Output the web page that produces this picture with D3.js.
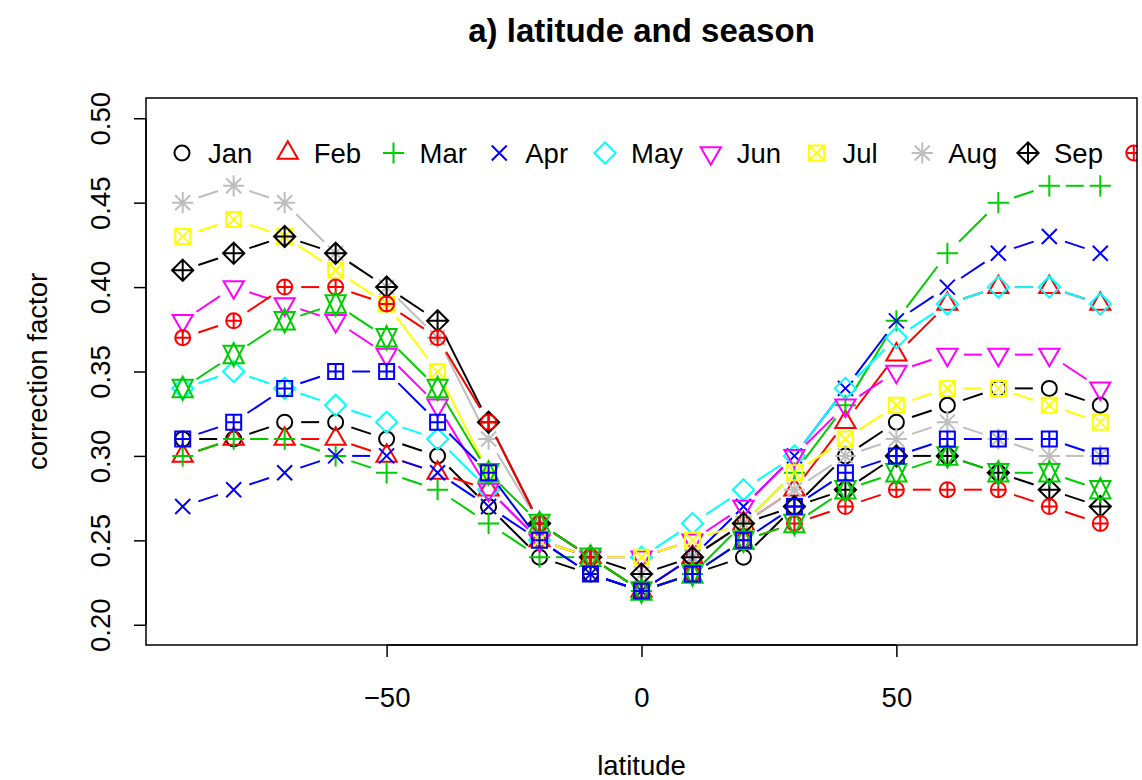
<!DOCTYPE html>
<html>
<head>
<meta charset="utf-8">
<script src="https://cdn.jsdelivr.net/npm/d3@7"></script>
<style>
  body { margin: 0; background: #fff; }
  text { font-family: "Liberation Sans", Arial, Helvetica, sans-serif; }
</style>
</head>
<body>
<svg id="chart" width="1142" height="780"></svg>
<script>
// Latitudes (degrees) and the monthly correction factors at each one
const latitudes = [-90, -80, -70, -60, -50, -40, -30, -20, -10, 0, 10, 20, 30, 40, 50, 60, 70, 80, 90];
const months = ["Jan", "Feb", "Mar", "Apr", "May", "Jun", "Jul", "Aug", "Sep", "Oct", "Nov", "Dec"];

const jan = [0.31, 0.31, 0.32, 0.32, 0.31, 0.30, 0.27, 0.24, 0.23, 0.22, 0.23, 0.24, 0.27, 0.30, 0.32, 0.33, 0.34, 0.34, 0.33];
const feb = [0.30, 0.31, 0.31, 0.31, 0.30, 0.29, 0.28, 0.25, 0.24, 0.22, 0.24, 0.26, 0.28, 0.32, 0.36, 0.39, 0.40, 0.40, 0.39];
const mar = [0.30, 0.31, 0.31, 0.30, 0.29, 0.28, 0.26, 0.24, 0.24, 0.22, 0.23, 0.26, 0.29, 0.33, 0.38, 0.42, 0.45, 0.46, 0.46];
const apr = [0.27, 0.28, 0.29, 0.30, 0.30, 0.29, 0.27, 0.25, 0.23, 0.22, 0.24, 0.27, 0.30, 0.34, 0.38, 0.40, 0.42, 0.43, 0.42];
const may = [0.34, 0.35, 0.34, 0.33, 0.32, 0.31, 0.28, 0.25, 0.24, 0.24, 0.26, 0.28, 0.30, 0.34, 0.37, 0.39, 0.40, 0.40, 0.39];
const jun = [0.38, 0.40, 0.39, 0.38, 0.36, 0.33, 0.28, 0.25, 0.24, 0.24, 0.25, 0.27, 0.30, 0.33, 0.35, 0.36, 0.36, 0.36, 0.34];
const jul = [0.43, 0.44, 0.43, 0.41, 0.39, 0.35, 0.29, 0.25, 0.24, 0.24, 0.25, 0.26, 0.29, 0.31, 0.33, 0.34, 0.34, 0.33, 0.32];
const aug = [0.45, 0.46, 0.45, 0.42, 0.40, 0.37, 0.31, 0.26, 0.24, 0.23, 0.24, 0.26, 0.28, 0.30, 0.31, 0.32, 0.31, 0.30, 0.30];
const sep = [0.41, 0.42, 0.43, 0.42, 0.40, 0.38, 0.32, 0.26, 0.24, 0.23, 0.24, 0.26, 0.27, 0.28, 0.30, 0.30, 0.29, 0.28, 0.27];
const oct = [0.37, 0.38, 0.40, 0.40, 0.39, 0.37, 0.32, 0.26, 0.24, 0.22, 0.23, 0.25, 0.26, 0.27, 0.28, 0.28, 0.28, 0.27, 0.26];
const nov = [0.34, 0.36, 0.38, 0.39, 0.37, 0.34, 0.29, 0.26, 0.24, 0.22, 0.23, 0.25, 0.26, 0.28, 0.29, 0.30, 0.29, 0.29, 0.28];
const dec = [0.31, 0.32, 0.34, 0.35, 0.35, 0.32, 0.29, 0.25, 0.23, 0.22, 0.23, 0.25, 0.27, 0.29, 0.30, 0.31, 0.31, 0.31, 0.30];
const seriesValues = [jan, feb, mar, apr, may, jun, jul, aug, sep, oct, nov, dec];

const xTicks = [-50, 0, 50];
const yTicks = [0.20, 0.25, 0.30, 0.35, 0.40, 0.45, 0.50];

// Base graphics palette, recycled across the twelve series; symbols 1..12
const palette = ["#000000", "#FF0000", "#00CD00", "#0000FF", "#00FFFF", "#FF00FF", "#FFFF00", "#BEBEBE"];
const symbols = d3.range(1, 13);

const svg = d3.select("#chart");
const plot = { left: 146, right: 1137, top: 98, bottom: 645 };

const x = d3.scaleLinear().domain([-97.2, 97.2]).range([plot.left, plot.right]);
const y = d3.scaleLinear().domain([0.188, 0.512]).range([plot.bottom, plot.top]);

const FONT = 27.5;
const R = 7.5;        // symbol radius
const GAP = 16.5;     // gap left around each point on the connecting lines
const LW = 2;

// Symbol outlines centred on the origin
const TRC0 = Math.sqrt(4 * Math.PI / (3 * Math.sqrt(3)));
const TRC1 = TRC0 * Math.sqrt(3) / 2;
const TRC2 = TRC0 / 2;
function circle(r) {
  return `M${-r},0a${r},${r} 0 1,0 ${2 * r},0a${r},${r} 0 1,0 ${-2 * r},0Z`;
}
function plus(s) { return `M${-s},0L${s},0M0,${-s}L0,${s}`; }
function cross(s) { return `M${-s},${-s}L${s},${s}M${-s},${s}L${s},${-s}`; }
function square(s) { return `M${-s},${-s}L${s},${-s}L${s},${s}L${-s},${s}Z`; }
function diamond(s) { return `M${-s},0L0,${-s}L${s},0L0,${s}Z`; }
function symbolPath(pch, r) {
  const s2 = Math.SQRT2 * r;
  const tr = TRC0 * r, tyc = TRC2 * r, txc = TRC1 * r;
  switch (pch) {
    case 1: return circle(r);
    case 2: return `M0,${-tr}L${txc},${tyc}L${-txc},${tyc}Z`;
    case 3: return plus(s2);
    case 4: return cross(r);
    case 5: return diamond(s2);
    case 6: return `M0,${tr}L${txc},${-tyc}L${-txc},${-tyc}Z`;
    case 7: return square(r) + cross(r);
    case 8: return cross(r) + plus(s2);
    case 9: return diamond(s2) + plus(s2);
    case 10: return circle(r) + plus(r);
    case 11: {
      const yc = 0.5 * (tyc + tr);
      return `M0,${-tr}L${txc},${yc}L${-txc},${yc}Z` + `M0,${tr}L${txc},${-yc}L${-txc},${-yc}Z`;
    }
    case 12: return square(r) + plus(r);
  }
}

// Title
svg.append("text")
  .attr("x", (plot.left + plot.right) / 2).attr("y", 42)
  .attr("text-anchor", "middle")
  .attr("font-size", 33).attr("font-weight", "bold")
  .text("a) latitude and season");

// Clip region for everything drawn inside the frame
svg.append("clipPath").attr("id", "plotClip")
  .append("rect")
  .attr("x", plot.left).attr("y", plot.top)
  .attr("width", plot.right - plot.left).attr("height", plot.bottom - plot.top);

// Series: broken connecting lines, then symbols
const marks = svg.append("g").attr("clip-path", "url(#plotClip)");
seriesValues.forEach((vals, k) => {
  const col = palette[k % palette.length];
  const g = marks.append("g");
  const pts = vals.map((v, i) => [x(latitudes[i]), y(v)]);
  for (let i = 0; i < pts.length - 1; i++) {
    const [x1, y1] = pts[i], [x2, y2] = pts[i + 1];
    const dx = x2 - x1, dy = y2 - y1, len = Math.hypot(dx, dy);
    if (len <= 2 * GAP) continue;
    const ux = dx / len, uy = dy / len;
    g.append("line")
      .attr("x1", x1 + ux * GAP).attr("y1", y1 + uy * GAP)
      .attr("x2", x2 - ux * GAP).attr("y2", y2 - uy * GAP)
      .attr("stroke", col).attr("stroke-width", LW);
  }
  g.selectAll("path.pt").data(pts).join("path")
    .attr("class", "pt")
    .attr("transform", d => `translate(${d[0]},${d[1]})`)
    .attr("d", symbolPath(symbols[k], R))
    .attr("fill", "none").attr("stroke", col).attr("stroke-width", LW);
});

// Legend across the top of the panel, one fixed pitch per entry (widest label
// plus symbol room); entries run off the right edge of the frame
const legend = svg.append("g").attr("clip-path", "url(#plotClip)");
const probe = svg.append("text").attr("font-size", FONT);
const maxW = d3.max(months, m => probe.text(m).node().getComputedTextLength());
probe.remove();
const pitch = maxW + 53.8;
const ly = 153;
for (let k = 0; k < months.length; k++) {
  const lx = 182 + k * pitch;
  if (lx - R * 1.5 > plot.right) break;
  const col = palette[k % palette.length];
  legend.append("path")
    .attr("transform", `translate(${lx},${ly})`)
    .attr("d", symbolPath(symbols[k], R))
    .attr("fill", "none").attr("stroke", col).attr("stroke-width", LW);
  const tx = lx + 26;
  if (tx >= plot.right) break;
  legend.append("text")
    .attr("x", tx).attr("y", ly + 10)
    .attr("font-size", FONT).text(months[k]);
}

// Frame
svg.append("rect")
  .attr("x", plot.left).attr("y", plot.top)
  .attr("width", plot.right - plot.left).attr("height", plot.bottom - plot.top)
  .attr("fill", "none").attr("stroke", "#000").attr("stroke-width", 1.5);

// X axis
const xAxis = svg.append("g").attr("transform", `translate(0,${plot.bottom})`)
  .call(d3.axisBottom(x).tickValues(xTicks).tickSize(12).tickPadding(30)
    .tickFormat(d => d < 0 ? "\u2212" + Math.abs(d) : d));
xAxis.select(".domain").attr("d", `M${x(xTicks[0])},0H${x(xTicks[xTicks.length - 1])}`)
  .attr("stroke-width", 1.5);
xAxis.selectAll(".tick line").attr("stroke-width", 1.5);
xAxis.selectAll("text").attr("font-size", FONT).attr("font-family", "Liberation Sans, Arial, sans-serif")
  .attr("fill", "#000");

// Y axis, labels turned to read upward
const yAxis = svg.append("g").attr("transform", `translate(${plot.left},0)`)
  .call(d3.axisLeft(y).tickValues(yTicks).tickSize(12).tickFormat(d3.format(".2f")));
yAxis.select(".domain").attr("d", `M0,${y(yTicks[0])}V${y(yTicks[yTicks.length - 1])}`)
  .attr("stroke-width", 1.5);
yAxis.selectAll(".tick line").attr("stroke-width", 1.5);
yAxis.selectAll(".tick text")
  .attr("x", null).attr("dy", null)
  .attr("transform", "translate(-36,0) rotate(-90)")
  .attr("text-anchor", "middle")
  .attr("font-size", FONT).attr("font-family", "Liberation Sans, Arial, sans-serif")
  .attr("fill", "#000");

// Axis titles
svg.append("text")
  .attr("x", (plot.left + plot.right) / 2).attr("y", 775)
  .attr("text-anchor", "middle").attr("font-size", FONT)
  .text("latitude");
svg.append("text")
  .attr("transform", `translate(47,${(plot.top + plot.bottom) / 2}) rotate(-90)`)
  .attr("text-anchor", "middle").attr("font-size", FONT)
  .text("correction factor");
</script>
</body>
</html>
